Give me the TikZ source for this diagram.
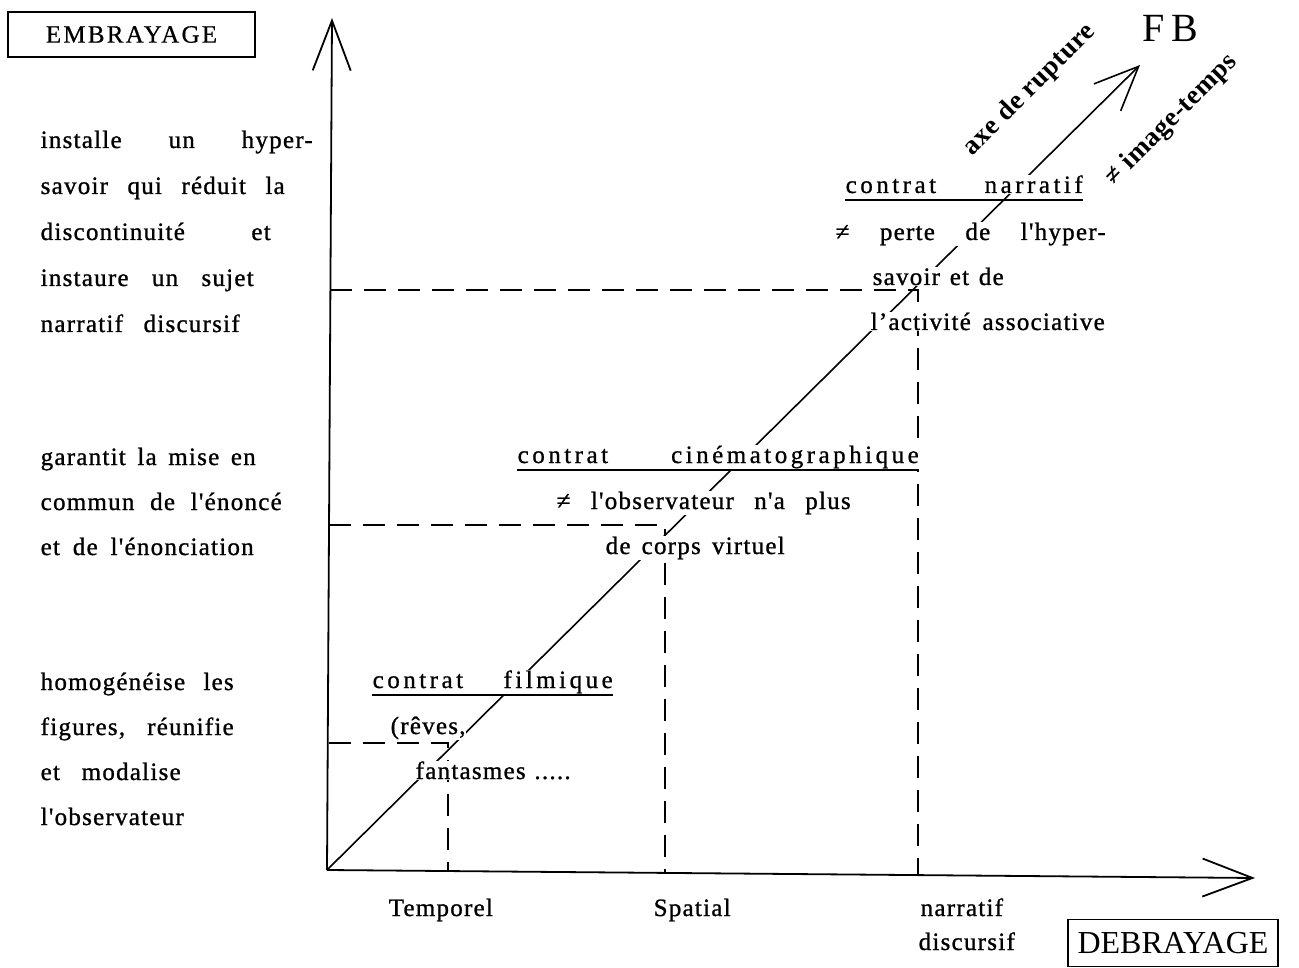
\documentclass[tikz,border=0pt]{standalone}
\usepackage{fontspec}
\setmainfont{Liberation Serif}
\newfontfamily\bodyf{Liberation Serif}[LetterSpace=5,FakeBold=1]
\newfontfamily\headf{Liberation Serif}[LetterSpace=14,FakeBold=0.8]
\newfontfamily\capf{Liberation Serif}[LetterSpace=9,FakeBold=0.6]
\newfontfamily\rotf{Liberation Serif}[LetterSpace=2]
\usetikzlibrary{arrows.meta}
\newcommand\J[2]{\makebox[#1pt][s]{#2}}
\tikzset{
  txt/.style={anchor=base west, inner sep=0.5pt, fill=white, font=\bodyf\fontsize{25}{28}\selectfont},
  head/.style={anchor=base west, inner sep=0.5pt, fill=white, font=\headf\fontsize{25}{28}\selectfont},
  uline/.style={line width=1.3pt},
  axisline/.style={line width=1.8pt, -{Straight Barb[length=50pt,width=38pt,line width=1.8pt]}},
  dashline/.style={line width=1.6pt, dash pattern=on 22pt off 12pt},
  labbox/.style={draw, line width=1.4pt, inner sep=0pt},
  rotlab/.style={inner sep=0.5pt, font=\rotf\bfseries\fontsize{27}{30}\selectfont, rotate=45}
}
\begin{document}
\begin{tikzpicture}[x=1pt,y=-1pt]
\useasboundingbox (0,0) rectangle (1299,968);
% key points
\coordinate (O) at (327,870);
\coordinate (Ytip) at (332,18);
\coordinate (Xtip) at (1255,878);
\coordinate (Dtip) at (1140,65);
\coordinate (h1a) at (329,743);
\coordinate (c1) at (448,743);
\coordinate (b1) at (448,871);
\coordinate (h2a) at (329,525);
\coordinate (c2) at (665,525);
\coordinate (b2) at (665,873);
\coordinate (h3a) at (330,290);
\coordinate (c3) at (918,290);
\coordinate (b3) at (918,876);
% dashed guides
\draw[dashline] (h1a) -- (c1) -- (b1);
\draw[dashline] (h2a) -- (c2) -- (b2);
\draw[dashline] (h3a) -- (c3) -- (b3);
% axes and diagonal
\draw[axisline] (O) -- (Ytip);
\draw[axisline] (O) -- (Xtip);
\draw[line width=1.6pt, -{Straight Barb[length=44pt,width=38pt,line width=1.6pt]}] (O) -- (Dtip);
% boxes
\node[labbox, minimum width=247pt, minimum height=45pt, font=\capf\fontsize{25}{28}\selectfont] (emb) at (131.5,34.5) {EMBRAYAGE};
\node[labbox, minimum width=210pt, minimum height=47pt, font=\fontsize{32}{34}\selectfont] (deb) at (1173,943) {DEBRAYAGE};
\node[inner sep=0pt, font=\fontsize{40}{42}\selectfont] (fb) at (1170,28) {F\kern7pt B};
% left column
\node[txt] (a1) at (40,148) {\J{272}{installe un hyper-}};
\node[txt] (a2) at (40,194) {\J{244}{savoir qui réduit la}};
\node[txt] (a3) at (40,240) {\J{230}{discontinuité et}};
\node[txt] (a4) at (40,286) {\J{213}{instaure un sujet}};
\node[txt] (a5) at (40,332) {\J{199}{narratif discursif}};
\node[txt] (b1t) at (40,465) {\J{215}{garantit la mise en}};
\node[txt] (b2t) at (40,510) {\J{241}{commun de l'énoncé}};
\node[txt] (b3t) at (40,555) {\J{213}{et de l'énonciation}};
\node[txt] (c1t) at (40,690) {\J{193}{homogénéise les}};
\node[txt] (c2t) at (40,735) {\J{193}{figures, réunifie}};
\node[txt] (c3t) at (40,780) {\J{140}{et modalise}};
\node[txt] (c4t) at (40,825) {l'observateur};
% bottom labels
\node[txt] (tem) at (388,916) {Temporel};
\node[txt] (spa) at (653,916) {Spatial};
\node[txt] (nar) at (920,916) {narratif};
\node[txt] (dis) at (918,950) {discursif};
% contrat narratif
\node[head] (hn) at (845,193) {\J{237}{contrat narratif}};
\node[txt] (n1) at (835,240) {\J{270}{≠ perte de l'hyper-}};
\node[txt] (n2) at (872,285) {\J{131}{savoir et de}};
\node[txt] (n3) at (870,330) {\J{234}{l’activité associative}};
% contrat cinematographique
\node[head] (hc) at (517,463) {\J{401}{contrat cinématographique}};
\node[txt] (k1) at (556,509) {\J{294}{≠ l'observateur n'a plus}};
\node[txt] (k2) at (605,554) {\J{179}{de corps virtuel}};
% contrat filmique
\node[head] (hf) at (372,688) {\J{240}{contrat filmique}};
\node[txt] (f1) at (390,734) {(rêves,};
\node[txt] (f2) at (415,779) {\J{155}{fantasmes .....}};
% underlines
\draw[uline] ([yshift=-7pt]hn.base west) -- ([yshift=-7pt]hn.base east);
\draw[uline] ([yshift=-7pt]hc.base west) -- ([yshift=-7pt]hc.base east);
\draw[uline] ([yshift=-7pt]hf.base west) -- ([yshift=-7pt]hf.base east);
% rotated labels
\node[rotlab] (axe) at (1030,90) {axe de rupture};
\node[rotlab] (img) at (1172,120) {≠ image-temps};
\end{tikzpicture}
\end{document}
